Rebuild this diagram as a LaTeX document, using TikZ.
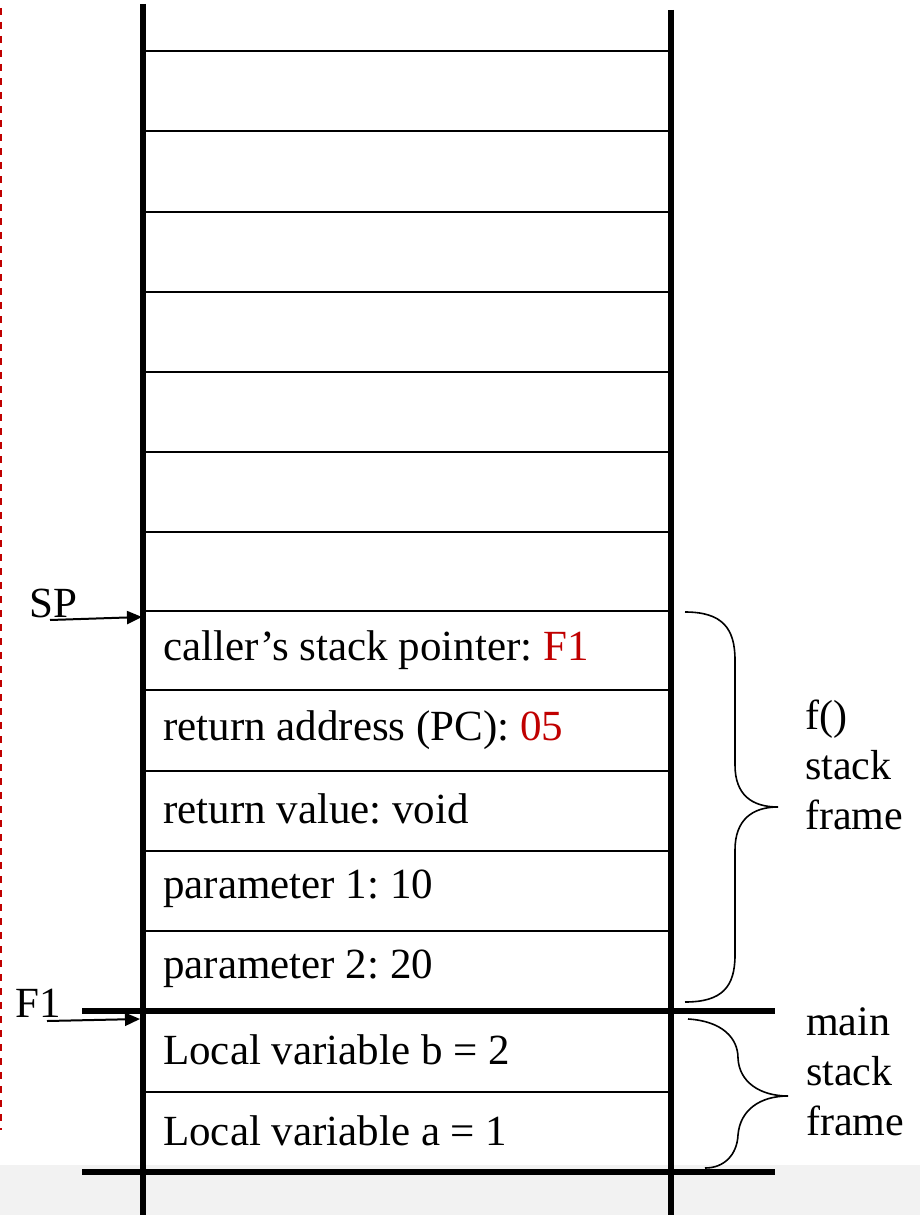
\documentclass[tikz,border=0pt]{standalone}
\usepackage{fontspec}
\setmainfont{Liberation Serif}
\usetikzlibrary{arrows.meta}
\definecolor{ptrred}{HTML}{C00000}
\definecolor{bandgrey}{HTML}{F2F2F2}
\tikzset{
  wall/.style={line width=6pt},
  slot/.style={line width=2pt},
  bound/.style={line width=6pt},
  celltext/.style={anchor=west, inner sep=0pt, font=\fontsize{43}{50}\selectfont},
  sidetext/.style={anchor=west, align=left, inner sep=0pt, font=\fontsize{42}{50}\selectfont},
  ptrarrow/.style={line width=2pt, -{Triangle[length=15pt,width=13pt]}},
  curly/.style={line width=1.6pt}
}
\frenchspacing
\begin{document}
\begin{tikzpicture}[x=1pt,y=-1pt]
  \useasboundingbox (0,0) rectangle (920,1215);
  \fill[bandgrey] (0,1165) rectangle (920,1215);
  % dashed red margin
  \draw[ptrred, line width=2.5pt, dash pattern=on 7pt off 7pt] (1,8)--(1,1130);
  % slot separators
  \foreach \y in {51,131,212,292,372,452,532,611,690,771,851,931,1092}
    \draw[slot] (143,\y)--(671,\y);
  \draw[bound] (82,1011)--(775,1011);
  \draw[bound] (82,1172)--(775,1172);
  % stack walls
  \draw[wall] (143,4)--(143,1215);
  \draw[wall] (671,10)--(671,1215);
  % cell contents
  \node[celltext] (csp) at (163,650) {caller’s stack pointer: \textcolor{ptrred}{F1}};
  \node[celltext] (ret) at (163,730) {return address (PC): \textcolor{ptrred}{05}};
  \node[celltext] (rval) at (163,809) {return value: void};
  \node[celltext] (par1) at (163,889) {parameter 1: 10};
  \node[celltext] (par2) at (163,969) {parameter 2: 20};
  \node[celltext] (locb) at (163,1050) {Local variable b = 2};
  \node[celltext] (loca) at (163,1131) {Local variable a = 1};
  % pointers
  \node[celltext] (sp) at (29,603) {SP};
  \coordinate (sptail) at (50,620);
  \coordinate (sphead) at (142,617);
  \draw[ptrarrow] (sptail)--(sphead);
  \node[celltext] (fp) at (15,1003) {F1};
  \coordinate (fptail) at (47,1021);
  \coordinate (fphead) at (140,1019);
  \draw[ptrarrow] (fptail)--(fphead);
  % braces
  \draw[curly] (685,612) .. controls (722,612) and (735,628) .. (735,660)
    -- (735,765) .. controls (735,795) and (752,807) .. (778,807)
    .. controls (752,807) and (735,820) .. (735,850)
    -- (735,955) .. controls (735,987) and (722,1002) .. (685,1002);
  \draw[curly] (688,1019) .. controls (722,1021) and (738,1038) .. (738,1058)
    .. controls (739,1082) and (760,1096) .. (788,1096)
    .. controls (760,1096) and (740,1110) .. (738,1135)
    .. controls (737,1155) and (724,1168) .. (705,1168);
  \node[sidetext] (fframe) at (805,765) {f()\\stack\\frame};
  \node[sidetext] (mframe) at (806,1072) {main\\stack\\frame};
\end{tikzpicture}
\end{document}
